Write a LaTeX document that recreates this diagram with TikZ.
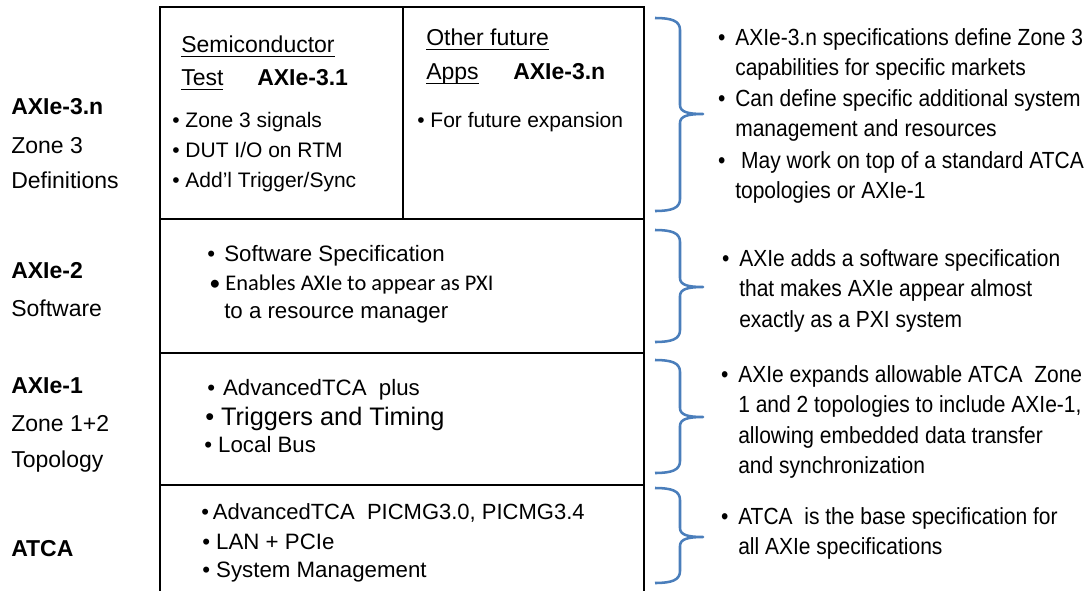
\documentclass[tikz,border=0pt]{standalone}
\usepackage{fontspec}
\setmainfont{Liberation Sans}
\newfontfamily\notefont{Liberation Sans}[FakeStretch=0.9]
\newfontfamily\calfont{Carlito}
\definecolor{braceblue}{HTML}{4A7EBB}
\newcommand{\ulword}[1]{\setbox0=\hbox{#1}\rlap{\rule[-3.8pt]{\wd0}{1.1pt}}\box0}
\newcommand{\bul}{\llap{•\hspace{7.3pt}}}

\begin{document}
\begin{tikzpicture}[x=0.75pt, y=-0.75pt,
  layer/.style={draw=black, line width=1.5pt},
  brace/.style={draw=braceblue, line width=1.9pt, line join=round},
  lbl/.style={anchor=base west, inner sep=0pt, font=\fontsize{17.25}{26}\selectfont},
  boxtxt/.style={anchor=base west, inner sep=0pt, align=left, font=\fontsize{15.75}{22.5}\selectfont},
  spec/.style={anchor=base west, inner sep=0pt, font=\fontsize{16.7}{20}\selectfont},
  note/.style={anchor=base west, inner sep=0pt, align=left, font=\notefont\fontsize{17.5}{22.7}\selectfont}
]
\useasboundingbox (0,0) rectangle (1090,590);

% layer boxes
\draw[layer] (160,600) -- (160,7) -- (644,7) -- (644,600);
\draw[layer] (160,219) -- (644,219);
\draw[layer] (160,353) -- (644,353);
\draw[layer] (160,485) -- (644,485);
\draw[layer] (403,7) -- (403,219);

% braces
\foreach \t/\m/\b in {18/114/211, 230/287/342, 360/417/473, 488/537/583}
  \draw[brace] (655,\t) .. controls (672,\t) and (680,\t+3) .. (680,\t+12)
    -- (680,\m-9) .. controls (680,\m-2) and (688,\m) .. (703,\m)
    .. controls (688,\m) and (680,\m+2) .. (680,\m+9)
    -- (680,\b-12) .. controls (680,\b-3) and (672,\b) .. (655,\b);

% left column
\node[lbl] (z3name) at (11,114) {\textbf{AXIe-3.n}};
\node[lbl] (z3a) at (11,153) {Zone 3};
\node[lbl] (z3b) at (11,188) {Definitions};
\node[lbl] (swname) at (11,278) {\textbf{AXIe-2}};
\node[lbl] (swa) at (11,316) {Software};
\node[lbl] (z12name) at (11,393) {\textbf{AXIe-1}};
\node[lbl] (z12a) at (11,431) {Zone 1+2};
\node[lbl] (z12b) at (11,467) {Topology};
\node[lbl] (atcaname) at (11,556) {\textbf{ATCA}};

% zone 3 boxes (multi-line nodes sit on their last baseline)
\node[lbl] (semi) at (181,52) {\ulword{Semiconductor}};
\node[lbl] (test) at (181,85) {\ulword{Test}};
\node[lbl] (ax31) at (257,85) {\textbf{AXIe-3.1}};
\node[boxtxt] (semilist) at (172,187.5) {• Zone 3 signals\\• DUT I/O on RTM\\• Add’l Trigger/Sync};
\node[lbl] (other) at (426,45) {\ulword{Other future}};
\node[lbl] (apps) at (426,79) {\ulword{Apps}};
\node[lbl] (ax3n) at (513,79) {\textbf{AXIe-3.n}};
\node[boxtxt] (futlist) at (417,127.5) {• For future expansion};

% software box
\node[spec] (swspec) at (207,261) {•\hspace{7pt}Software Specification};
\node[spec, font=\calfont\fontsize{16.8}{20}\selectfont] (enables) at (209,290) {• Enables AXIe to appear as PXI};
\node[spec] (resmgr) at (224,318) {to a resource manager};

% zone 1+2 box
\node[spec] (advplus) at (207,395) {•\hspace{6pt}AdvancedTCA\ \ plus};
\node[spec, font=\fontsize{19}{22}\selectfont] (trig) at (205,425) {• Triggers and Timing};
\node[spec] (lbus) at (204,452) {• Local Bus};

% atca box
\node[spec, font=\fontsize{16.5}{20}\selectfont] (adv) at (201,519) {•\hspace{3pt}AdvancedTCA\ \ PICMG3.0, PICMG3.4};
\node[spec] (lan) at (202,549) {• LAN + PCIe};
\node[spec] (sysm) at (202,577) {• System Management};

% notes
\node[note] (n3a) at (735,75.8) {\bul AXIe-3.n specifications define Zone 3\\capabilities for specific markets};
\node[note] (n3b) at (735,136.8) {\bul Can define specific additional system\\management and resources};
\node[note] (n3c) at (735,198.8) {\bul\ May work on top of a standard ATCA\\topologies or AXIe-1};
\node[note] (n2) at (739,327) {\bul AXIe adds a software specification\\that makes AXIe appear almost\\exactly as a PXI system};
\node[note] (n1) at (738,473.3) {\bul AXIe expands allowable ATCA\ \ Zone\\1 and 2 topologies to include AXIe-1,\\allowing embedded data transfer\\and synchronization};
\node[note] (n0) at (738,554.8) {\bul ATCA\ \ is the base specification for\\all AXIe specifications};
\end{tikzpicture}
\end{document}
